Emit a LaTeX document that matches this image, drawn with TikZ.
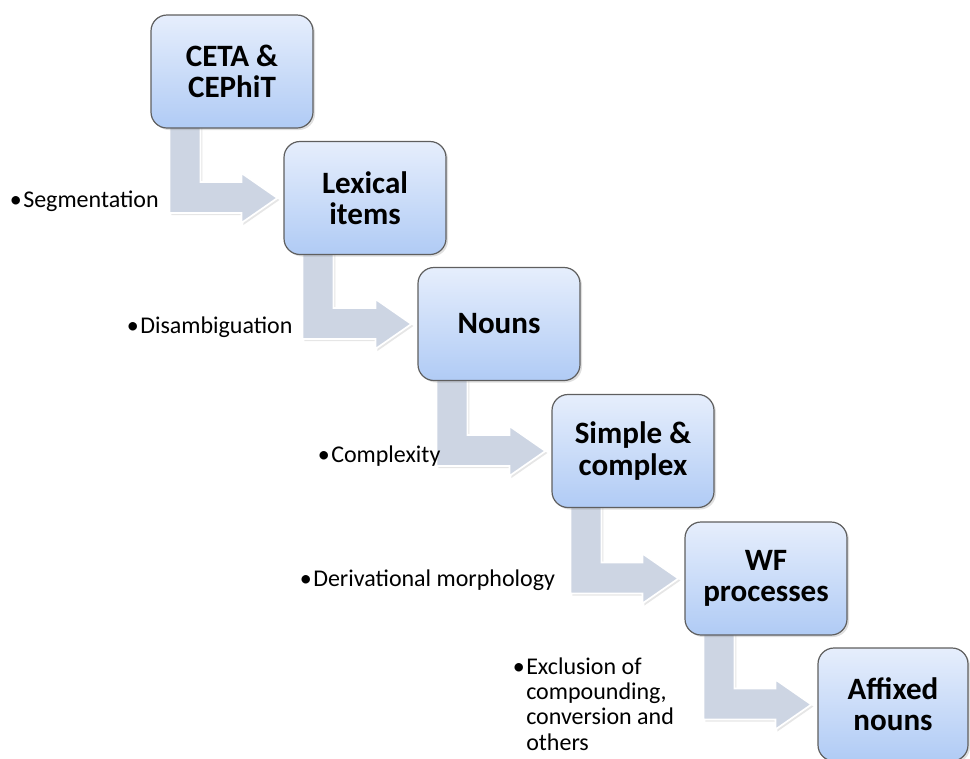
\documentclass[tikz,border=0pt]{standalone}
\usepackage{fontspec}
\setmainfont{Carlito}
\usetikzlibrary{calc,shadows}
\pgfdeclarelayer{background}
\pgfsetlayers{background,main}
\definecolor{stagetop}{RGB}{230,238,252}
\definecolor{stagebot}{RGB}{176,203,245}
\definecolor{stageline}{RGB}{95,95,95}
\definecolor{flowfill}{RGB}{205,213,227}
\begin{document}
\begin{tikzpicture}[x=0.75pt,y=-0.75pt,
		stage/.style={rectangle, rounded corners=12pt, draw=stageline, line width=0.9pt,
			top color=stagetop, bottom color=stagebot,
			minimum width=121.5pt, minimum height=84.75pt, inner sep=0pt, align=center,
			font=\bfseries\fontsize{23.3}{23.3}\selectfont,
			drop shadow={opacity=0.25, shadow xshift=1.5pt, shadow yshift=-1.5pt}},
		flow/.style={fill=flowfill, draw=white, line width=1.3pt,
			drop shadow={opacity=0.2, shadow xshift=1.5pt, shadow yshift=-1.5pt}},
		hint/.style={inner sep=0pt, anchor=base west, align=left,
			font=\fontsize{18}{19}\selectfont}]
			\useasboundingbox (0,0) rectangle (970,758);
			\begin{scope}[every node/.style={stage}]
				\node (ceta) at (232,71.5)  {CETA \&\\CEPhiT};
				\node (lex)  at (365,198)   {Lexical\\items};
				\node (noun) at (499,324)   {Nouns};
				\node (simp) at (633,451)   {Simple \&\\complex};
				\node (wf)   at (766,578.5) {WF\\processes};
				\node[minimum width=112.5pt] (affx) at (893,704.5) {Affixed\\nouns};
			\end{scope}
			\begin{pgfonlayer}{background}
				\foreach \a/\b in {ceta/lex, lex/noun, noun/simp, simp/wf, wf/affx} {
					\coordinate (tip) at ($(\b.west)+(-6,0)$);
					\coordinate (up) at ($(tip)+(-36,-16)$);
					\coordinate (dn) at ($(tip)+(-36,15)$);
					\coordinate (shafta) at ($(\a.south west)+(50,-4)$);
					\coordinate (shaftb) at ($(\a.south west)+(19,-4)$);
					\path[flow] (tip) -- ($(tip)+(-36,-25)$) -- (up) -- (shafta |- up)
						-- (shafta) -- (shaftb) -- (shaftb |- dn) -- (dn)
						-- ($(tip)+(-36,25)$) -- cycle;
				}
			\end{pgfonlayer}
			\node[hint] (seg) at (23,207)  {\llap{\textbullet\hspace{1pt}}Segmentation};
			\node[hint] (dis) at (140,333) {\llap{\textbullet\hspace{1pt}}Disambiguation};
			\node[hint] (cpx) at (331,462) {\llap{\textbullet\hspace{1pt}}Complexity};
			\node[hint] (der) at (313,586) {\llap{\textbullet\hspace{1pt}}Derivational morphology};
			% base anchor sits on the last line here
			\node[hint] (exc) at (526,750) {\llap{\textbullet\hspace{1pt}}Exclusion of\\compounding,\\conversion and\\others};
		\end{tikzpicture}
\end{document}
